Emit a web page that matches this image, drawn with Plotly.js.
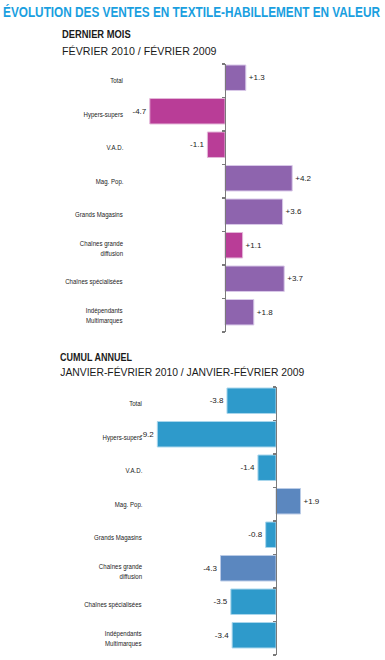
<!DOCTYPE html>
<html>
<head>
<meta charset="utf-8">
<script src="https://cdn.plot.ly/plotly-3.0.1.min.js"></script>
<style>
html,body{margin:0;padding:0;background:#fff;}
#chart{width:385px;height:660px;}
</style>
</head>
<body>
<div id="chart"></div>
<script>
// ---- data ----
const categories = ["Total", "Hypers-supers", "V.A.D.", "Mag. Pop.", "Grands Magasins", "Chaînes grande<br>diffusion", "Chaînes spécialisées", "Indépendants<br>Multimarques"];
const monthValues = [1.3, -4.7, -1.1, 4.2, 3.6, 1.1, 3.7, 1.8];
const cumulValues = [-3.8, -9.2, -1.4, 1.9, -0.8, -4.3, -3.5, -3.4];
const monthHighlight = [false, true, true, false, false, true, false, false];
const cumulHighlight = [false, false, false, true, false, true, false, false];
const titleText = "ÉVOLUTION DES VENTES EN TEXTILE-HABILLEMENT EN VALEUR";
const head1Bold = "DERNIER MOIS";
const head1Sub = "FÉVRIER 2010 / FÉVRIER 2009";
const head2Bold = "CUMUL ANNUEL";
const head2Sub = "JANVIER-FÉVRIER 2010 / JANVIER-FÉVRIER 2009";

// ---- layout helpers ----
const W = 385, H = 660;
const FONT = "'Liberation Sans', Arial, sans-serif";
const idx = categories.map((c, i) => i);
const fmt = v => (v > 0 ? "+" : "") + v.toFixed(1);

function xr(left, right, zero, ppu) {
  return [-(zero - left) / ppu, (right - zero) / ppu];
}
const T = {left: 126, right: 335, zero: 225, ppu: 16, top: 64, bottom: 332, labelX: 125};
const B = {left: 145, right: 345, zero: 276, ppu: 12.9, top: 387, bottom: 655, labelX: 144};

const purple = "#8e64ae", magenta = "#b93d97", blue = "#2e9acb", steel = "#5b87bf";

const traces = [
  {
    type: "bar", orientation: "h", x: monthValues, y: idx,
    width: 0.76, offset: -0.47,
    marker: {color: monthHighlight.map(h => h ? magenta : purple),
             line: {color: monthHighlight.map(h => h ? "#e3b6d8" : "#d8c8e8"), width: 1}},
    text: monthValues.map(fmt), textposition: "outside",
    textfont: {family: FONT, size: 8, color: "#222"},
    cliponaxis: false, hoverinfo: "skip", xaxis: "x", yaxis: "y"
  },
  {
    type: "bar", orientation: "h", x: cumulValues, y: idx,
    width: 0.76, offset: -0.47,
    marker: {color: cumulHighlight.map(h => h ? steel : blue),
             line: {color: cumulHighlight.map(h => h ? "#b9cbe6" : "#a9d6ec"), width: 1}},
    text: cumulValues.map(fmt), textposition: "outside",
    textfont: {family: FONT, size: 8, color: "#222"},
    cliponaxis: false, hoverinfo: "skip", xaxis: "x2", yaxis: "y2"
  }
];

const boundaries = categories.map((c, i) => i - 0.5).concat([categories.length - 0.5]);

function yAxis(g) {
  return {
    domain: [1 - g.bottom / H, 1 - g.top / H],
    range: [categories.length - 0.5, -0.5],
    anchor: "free", position: g.zero / W,
    showline: true, linecolor: "#7a7a7a", linewidth: 1.2,
    ticks: "outside", ticklen: 3, tickcolor: "#7a7a7a", tickwidth: 1.2,
    tickmode: "array", tickvals: boundaries, showticklabels: false,
    showgrid: false, zeroline: false, fixedrange: true
  };
}
function xAxis(g, yName) {
  return {
    domain: [g.left / W, g.right / W], range: xr(g.left, g.right, g.zero, g.ppu),
    anchor: yName, visible: false, showgrid: false, zeroline: false, fixedrange: true
  };
}

const annotations = [];
const fits = []; // horizontal condensing of each annotation text
function catLabels(g, yref) {
  categories.forEach((c, i) => {
    annotations.push({
      text: c, xref: "paper", x: g.labelX / W, xanchor: "right",
      yref: yref, y: i, yanchor: "middle", showarrow: false, align: "right",
      font: {family: FONT, size: 8, color: "#222"}
    });
    fits.push({anchor: "right", scale: 0.76});
  });
}
catLabels(T, "y");
catLabels(B, "y2");

function header(text, px, py, size, bold, color, targetW) {
  annotations.push({
    text: bold ? "<b>" + text + "</b>" : text,
    xref: "paper", yref: "paper", x: px / W, y: 1 - py / H,
    xanchor: "left", yanchor: "middle", showarrow: false,
    font: {family: FONT, size: size, color: color}
  });
  fits.push({anchor: "left", target: targetW});
}
header(titleText, 1, 12, 14, true, "#1a9fe0", 377);
header(head1Bold, 60, 35, 10, true, "#1a1a1a", 69);
header(head1Sub, 60, 51, 10, false, "#1a1a1a", 155);
header(head2Bold, 58, 357, 10, true, "#1a1a1a", 72);
header(head2Sub, 58, 372, 10, false, "#1a1a1a", 245);

const layout = {
  width: W, height: H,
  margin: {l: 0, r: 0, t: 0, b: 0, pad: 0},
  paper_bgcolor: "#fff", plot_bgcolor: "rgba(0,0,0,0)",
  showlegend: false, bargap: 0,
  xaxis: xAxis(T, "y"), yaxis: yAxis(T),
  xaxis2: xAxis(B, "y2"), yaxis2: yAxis(B),
  annotations: annotations
};
Plotly.newPlot("chart", traces, layout, {staticPlot: true, displayModeBar: false}).then(gd => {
  fits.forEach((f, i) => {
    const t = gd.querySelector('g.annotation[data-index="' + i + '"] text.annotation-text');
    if (!t) return;
    const bb = t.getBBox();
    if (!bb.width) return;
    const sx = f.target ? f.target / bb.width : f.scale;
    const ox = f.anchor === "right" ? bb.x + bb.width : bb.x;
    t.setAttribute("transform", "translate(" + ox + ",0) scale(" + sx + ",1) translate(" + (-ox) + ",0)");
  });
});
</script>
</body>
</html>
